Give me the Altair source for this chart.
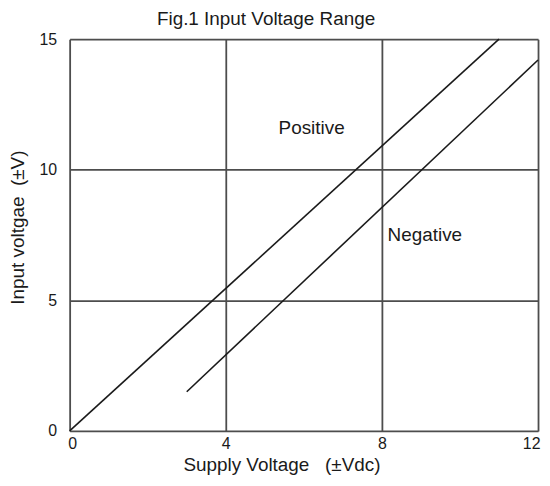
import altair as alt
import pandas as pd

# Data
series = ["Positive", "Positive", "Negative", "Negative"]
supply = [0, 11, 3, 12]
inp = [0, 15, 1.5, 14.2]

label_text = ["Positive", "Negative"]
label_x = [6.2, 9.1]
label_y = [11.6, 7.5]

x_ticks = [0, 4, 8, 12]
y_ticks = [0, 5, 10, 15]

lines_df = pd.DataFrame({"series": series, "supply": supply, "inp": inp})
labels_df = pd.DataFrame({"text": label_text, "x": label_x, "y": label_y})

FONT = "Liberation Sans"
GRID = "#4d4d4d"
TXT = "#1a1a1a"

xscale = alt.Scale(domain=[0, 12], nice=False)
yscale = alt.Scale(domain=[0, 15], nice=False)

xaxis = alt.Axis(values=x_ticks, grid=True, gridColor=GRID, gridWidth=1.8,
                 ticks=False, domain=False, labelFontSize=16, labelFont=FONT,
                 labelColor=TXT, labelPadding=5, labelFlush=True, labelFlushOffset=2,
                 title="Supply Voltage \u00a0 (±Vdc)",
                 titleFont=FONT, titleFontSize=19, titleFontWeight="normal",
                 titleColor=TXT, titlePadding=4, titleX=213)
yaxis = alt.Axis(values=y_ticks, grid=True, gridColor=GRID, gridWidth=1.8,
                 ticks=False, domain=False, labelFontSize=16, labelFont=FONT,
                 labelColor=TXT, labelPadding=13, title="Input voltgae \u00a0(±V)",
                 titleFont=FONT, titleFontSize=19, titleFontWeight="normal",
                 titleColor=TXT, titlePadding=12, titleY=189)

lines = alt.Chart(lines_df).mark_line(color="#1a1a1a", strokeWidth=1.6).encode(
    x=alt.X("supply:Q", scale=xscale, axis=xaxis),
    y=alt.Y("inp:Q", scale=yscale, axis=yaxis),
    detail="series:N",
)

labels = alt.Chart(labels_df).mark_text(font=FONT, fontSize=19, color=TXT).encode(
    x=alt.X("x:Q", scale=xscale),
    y=alt.Y("y:Q", scale=yscale),
    text="text:N",
)

chart = alt.layer(lines, labels).properties(
    width=471,
    height=394,
    title=alt.TitleParams("Fig.1 Input Voltage Range", font=FONT, fontSize=19,
                          fontWeight="normal", color=TXT, offset=2, dx=-38),
    autosize=alt.AutoSizeParams(type="none"),
    padding={"left": 62, "top": 30, "right": 4, "bottom": 46},
).configure_view(stroke=GRID, strokeWidth=1.8).configure(background="white")

chart.save("out.html", embed_options={"renderer": "svg", "actions": False})
